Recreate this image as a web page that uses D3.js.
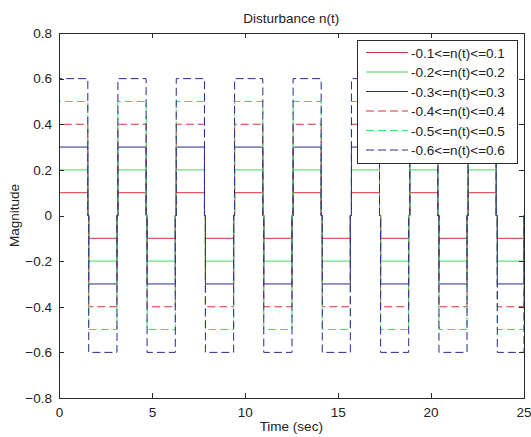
<!DOCTYPE html>
<html><head><meta charset="utf-8">
<script src="https://cdn.jsdelivr.net/npm/d3@7"></script>
<style>
body{margin:0;background:#fff;}
svg{display:block;font-family:"Liberation Sans",Arial,sans-serif;}
</style></head>
<body><svg id="chart" width="531" height="437"></svg>
<script>
// ---- data ----
const seriesLabels = ["-0.1<=n(t)<=0.1","-0.2<=n(t)<=0.2","-0.3<=n(t)<=0.3","-0.4<=n(t)<=0.4","-0.5<=n(t)<=0.5","-0.6<=n(t)<=0.6"];
const amplitudes = [0.1,0.2,0.3,0.4,0.5,0.6];
const seriesColors = ["#d8303c","#3fdc5c","#2a2a90","#d8303c","#3fdc5c","#2a2a90"];
const seriesDashed = [false,false,false,true,true,true];
// square-wave blocks: start time, end time, sign
const segmentStarts = [0,1.6,3.17,4.74,6.31,7.88,9.45,11.02,12.6,14.17,15.74,17.31,18.88,20.45,22.02,23.59];
const segmentEnds   = [1.55,3.12,4.69,6.26,7.83,9.4,10.97,12.54,14.11,15.68,17.25,18.82,20.39,21.96,23.53,25.0];
const segmentSigns  = [1,-1,1,-1,1,-1,1,-1,1,-1,1,-1,1,-1,1,-1];
const xTicks = [0,5,10,15,20,25];
const yTicks = [-0.8,-0.6,-0.4,-0.2,0,0.2,0.4,0.6,0.8];
const titleText = "Disturbance n(t)";
const xLabel = "Time (sec)";
const yLabel = "Magnitude";

// ---- layout ----
const svg = d3.select("#chart");
const L = 59, R = 523.5, T = 33, B = 398;
const x = d3.scaleLinear().domain([0,25]).range([L,R]);
const y = d3.scaleLinear().domain([-0.8,0.8]).range([B,T]);

svg.append("defs").append("clipPath").attr("id","clip")
  .append("rect").attr("x",L).attr("y",T).attr("width",R-L).attr("height",B-T);

const line = d3.line().x(d=>x(d[0])).y(d=>y(d[1]));
const g = svg.append("g").attr("clip-path","url(#clip)");
amplitudes.forEach((a,i)=>{
  const pts = [];
  segmentStarts.forEach((s,k)=>{
    const v = a*segmentSigns[k];
    pts.push([s,0],[s,v],[segmentEnds[k],v],[segmentEnds[k],0]);
  });
  g.append("path").datum(pts)
    .attr("d",line).attr("fill","none")
    .attr("stroke",seriesColors[i]).attr("stroke-width",1)
    .attr("stroke-dasharray",seriesDashed[i]?"8,4":null);
});

// axes (MATLAB style box with inward ticks)
const axColor = "#2a2a2a";
const fs = 13.5;
const axB = svg.append("g").attr("transform",`translate(0,${B})`)
  .call(d3.axisBottom(x).tickValues(xTicks).tickSizeInner(-5).tickSizeOuter(0).tickPadding(9).tickFormat(d3.format("d")));
const axT = svg.append("g").attr("transform",`translate(0,${T})`)
  .call(d3.axisTop(x).tickValues(xTicks).tickSizeInner(-5).tickSizeOuter(0).tickFormat(""));
const axL = svg.append("g").attr("transform",`translate(${L},0)`)
  .call(d3.axisLeft(y).tickValues(yTicks).tickSizeInner(-5).tickSizeOuter(0).tickPadding(7).tickFormat(d=>d===0?"0":d3.format(".1f")(d)));
const axR = svg.append("g").attr("transform",`translate(${R},0)`)
  .call(d3.axisRight(y).tickValues(yTicks).tickSizeInner(-5).tickSizeOuter(0).tickFormat(""));
[axB,axT,axL,axR].forEach(a=>{
  a.selectAll("path,line").attr("stroke",axColor).attr("shape-rendering","crispEdges");
  a.selectAll("text").attr("font-size",fs).attr("fill","#222").attr("font-family","'Liberation Sans',Arial,sans-serif");
});

// titles
svg.append("text").attr("x",(L+R)/2).attr("y",23).attr("text-anchor","middle")
  .attr("font-size",fs).attr("fill","#222").text(titleText);
svg.append("text").attr("x",(L+R)/2).attr("y",431).attr("text-anchor","middle")
  .attr("font-size",fs).attr("fill","#222").text(xLabel);
svg.append("text").attr("transform",`translate(19,${(T+B)/2}) rotate(-90)`).attr("text-anchor","middle")
  .attr("font-size",fs).attr("fill","#222").text(yLabel);

// legend
const lg = svg.append("g");
lg.append("rect").attr("x",357.5).attr("y",40.5).attr("width",160).attr("height",123)
  .attr("fill","#fff").attr("stroke",axColor).attr("shape-rendering","crispEdges");
seriesLabels.forEach((lab,i)=>{
  const yy = 52.5 + i*19.5;
  lg.append("line").attr("x1",366).attr("x2",408).attr("y1",yy).attr("y2",yy)
    .attr("stroke",seriesColors[i]).attr("stroke-width",1)
    .attr("stroke-dasharray",seriesDashed[i]?"8,4":null);
  lg.append("text").attr("x",411).attr("y",yy+5).attr("font-size",fs).attr("fill","#222").text(lab);
});
</script></body></html>
